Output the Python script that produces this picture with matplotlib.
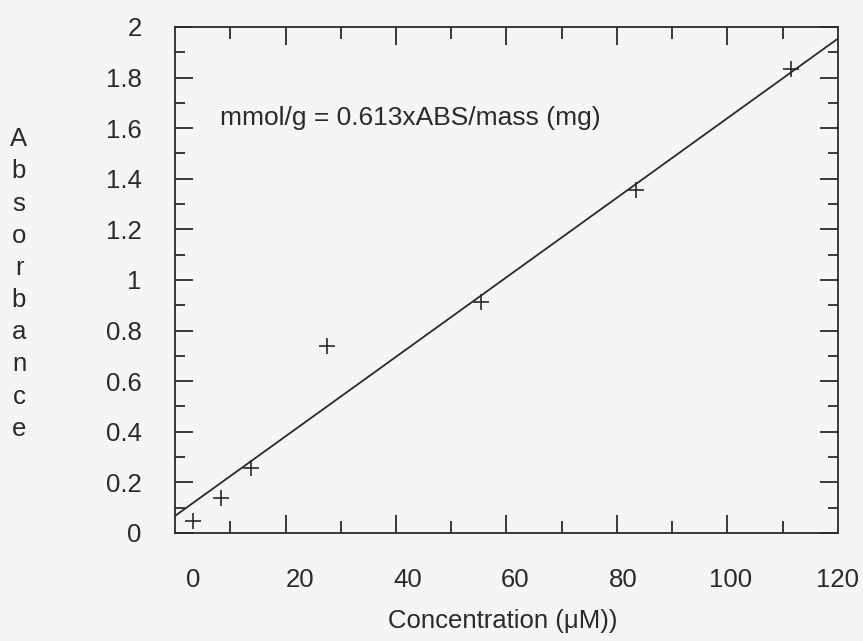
import matplotlib
matplotlib.use("Agg")
import matplotlib.pyplot as plt
from matplotlib.ticker import FixedLocator, MultipleLocator, FuncFormatter
import numpy as np

plt.rcParams["font.family"] = ["Liberation Sans", "DejaVu Sans"]

# Data
concentration = [0, 5.2, 10.8, 25.0, 53.7, 82.5, 111.2]
absorbance = [0.049, 0.137, 0.257, 0.739, 0.914, 1.356, 1.834]
fit_slope = 0.0153
fit_intercept = 0.118
x_labels = [0, 20, 40, 60, 80, 100, 120]
equation = "mmol/g = 0.613xABS/mass (mg)"

ink = "#2a2a2a"
bg = "#f5f5f3"
fs = 18.5

fig = plt.figure(figsize=(8.63, 6.41), dpi=100, facecolor=bg)
ax = fig.add_axes([0.2028, 0.1685, 0.971 - 0.2028, 0.958 - 0.1685])
ax.set_facecolor(bg)

xmin, xmax = -3.3, 120
ax.set_xlim(xmin, xmax)
ax.set_ylim(0, 2)

# fitted line across the whole axis
xs = np.array([xmin, xmax])
ax.plot(xs, fit_intercept + fit_slope * xs, color=ink, lw=1.3)
ax.plot(concentration, absorbance, "+", color=ink, ms=12, mew=1.2)

ax.text(5.0, 1.64, equation, fontsize=19, color=ink, va="center", ha="left")

for s in ax.spines.values():
    s.set_color(ink)
    s.set_linewidth(1.3)

# x tick marks: axis split into 12 parts, long marks on every other one
step = (xmax - xmin) / 12
marks = [xmin + k * step for k in range(1, 12)]
ax.xaxis.set_major_locator(FixedLocator(marks[1::2]))
ax.xaxis.set_minor_locator(FixedLocator(marks[0::2]))
ax.tick_params(axis="x", which="both", direction="in", top=True, bottom=True,
               labelbottom=False, color=ink, width=1.3)
ax.tick_params(axis="x", which="major", length=13)
ax.tick_params(axis="x", which="minor", length=8.5)

# x labels drawn on a secondary axis without marks
sec = ax.secondary_xaxis("bottom")
sec.set_xticks(x_labels)
sec.tick_params(length=0, pad=25, labelsize=fs, labelcolor=ink)
sec.spines["bottom"].set_visible(False)

ax.yaxis.set_major_locator(MultipleLocator(0.2))
ax.yaxis.set_minor_locator(MultipleLocator(0.1))
ax.yaxis.set_major_formatter(FuncFormatter(lambda v, p: "%g" % round(v, 2)))
ax.tick_params(axis="y", which="both", direction="in", left=True, right=True,
               color=ink, width=1.3, labelsize=fs, labelcolor=ink)
ax.tick_params(axis="y", which="major", length=13, pad=24)
ax.tick_params(axis="y", which="minor", length=7.5)

fig.text(503 / 863, 1 - 621 / 641, "Concentration (μM))", fontsize=fs,
         color=ink, ha="center", va="center")
fig.text(19 / 863, 1 - 284 / 641, "\n".join("Absorbance"), fontsize=fs,
         color=ink, ha="center", va="center", linespacing=1.43)

fig.savefig("out.png", dpi=100, facecolor=bg)
